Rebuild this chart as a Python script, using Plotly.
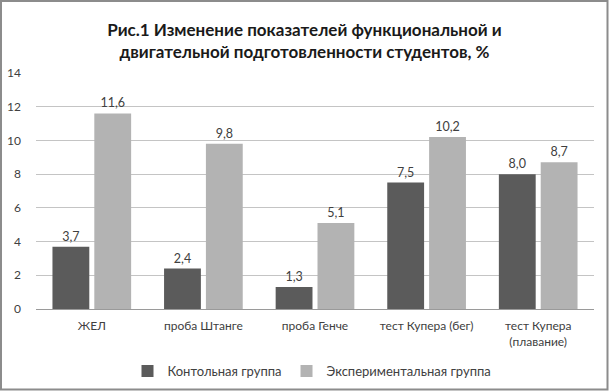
import plotly.graph_objects as go

categories = ["ЖЕЛ", "проба Штанге", "проба Генче", "тест Купера (бег)", "тест Купера<br>(плавание)"]
control = [3.7, 2.4, 1.3, 7.5, 8.0]
experimental = [11.6, 9.8, 5.1, 10.2, 8.7]
series_names = ["Контольная группа", "Экспериментальная группа"]
y_ticks = [0, 2, 4, 6, 8, 10, 12, 14]

W, H = 609, 391
L, R, T, B = 36, 15, 73, 82
pw, ph = W - L - R, H - T - B

font_family = "Lato, Open Sans, sans-serif"

fig = go.Figure()
fig.add_trace(go.Bar(x=categories, y=control, name=series_names[0],
                     marker=dict(color="#5b5b5b", line=dict(width=0)),
                     texttemplate="%{y:.1f}", textposition="outside",
                     textfont=dict(size=12.5, color="#404040", family=font_family),
                     cliponaxis=False))
fig.add_trace(go.Bar(x=categories, y=experimental, name=series_names[1],
                     marker=dict(color="#b3b3b3", line=dict(width=0)),
                     texttemplate="%{y:.1f}", textposition="outside",
                     textfont=dict(size=12.5, color="#404040", family=font_family),
                     cliponaxis=False))

def px_x(p):
    return (p - L) / pw

def px_y(p):
    return (H - B - p) / ph

fig.update_layout(
    width=W, height=H,
    margin=dict(l=L, r=R, t=T, b=B, pad=0, autoexpand=False),
    separators=", ",
    paper_bgcolor="white", plot_bgcolor="white",
    barmode="group", bargap=0.25, bargroupgap=0.12,
    title=dict(text="<b>Рис.1 Изменение показателей функциональной и<br>двигательной подготовленности студентов, %</b>",
               x=0.5, xanchor="center", y=1 - 36 / H, yanchor="middle",
               font=dict(size=17, color="#1a1a1a", family=font_family)),
    font=dict(family=font_family, size=12, color="#404040"),
    xaxis=dict(showgrid=False, showline=True, linecolor="#9a9a9a", linewidth=1,
               ticks="", ticklabelstandoff=6, automargin=False,
               tickfont=dict(size=12, color="#404040"), fixedrange=True),
    yaxis=dict(range=[0, 14], tickvals=y_ticks, showgrid=True, gridcolor="#c4c4c4",
               gridwidth=1, zeroline=False, showline=False, ticks="",
               ticklabelstandoff=14, automargin=False, fixedrange=True,
               tickfont=dict(size=12, color="#404040")),
    legend=dict(orientation="h", x=px_x(312), xanchor="center", y=px_y(371), yanchor="middle",
                font=dict(size=13, color="#404040"), itemwidth=30, traceorder="normal"),
    showlegend=True,
    shapes=[dict(type="rect", xref="paper", yref="paper",
                 x0=px_x(1), x1=px_x(W - 1.5), y0=px_y(H - 1.5), y1=px_y(1),
                 line=dict(color="#8c8c8c", width=2), fillcolor="rgba(0,0,0,0)", layer="above")],
)

fig.write_html("out.html", config={"displayModeBar": False},
               post_script="document.body.style.margin='0';document.body.style.overflow='hidden';")
